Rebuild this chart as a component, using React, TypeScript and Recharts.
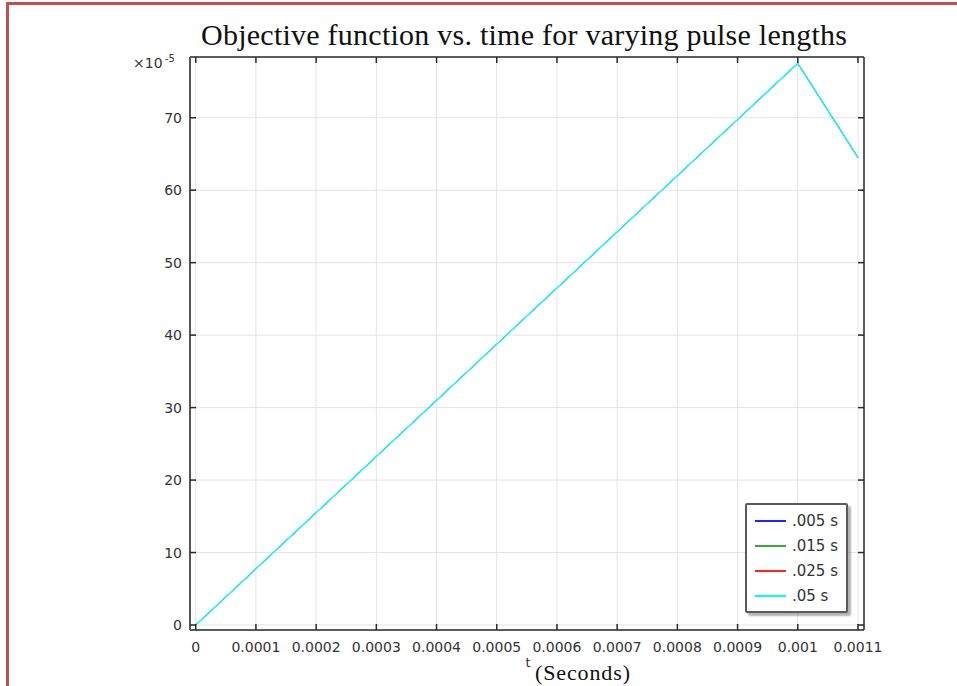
import React from 'react'
import { LineChart, Line, XAxis, YAxis, CartesianGrid, Legend } from 'recharts'

// time samples (s) and objective values (in units of 1e-5)
const tSeconds = [0, 0.001, 0.0011]
const pulse005 = [0, 77.5, 64.5]
const pulse015 = [0, 77.5, 64.5]
const pulse025 = [0, 77.5, 64.5]
const pulse05 = [0, 77.5, 64.5]

const seriesNames = ['.005 s', '.015 s', '.025 s', '.05 s']
const seriesColors = ['#2323ff', '#2fae2f', '#ff2323', '#00ffff']
const seriesValues = [pulse005, pulse015, pulse025, pulse05]

const xTicks = [0, 0.0001, 0.0002, 0.0003, 0.0004, 0.0005, 0.0006, 0.0007, 0.0008, 0.0009, 0.001, 0.0011]
const yTicks = [0, 10, 20, 30, 40, 50, 60, 70]

const data = tSeconds.map((t, i) => {
  const row: Record<string, number> = { t }
  seriesValues.forEach((vals, k) => {
    row['s' + k] = vals[i]
  })
  return row
})

const FRAME = '#2a2a2a'
const TICK_TEXT = '#333'
const SANS = '"DejaVu Sans", sans-serif'
const SERIF = '"Liberation Serif", serif'

const BottomTick = (props: any) => {
  const { x, y, payload } = props
  return (
    <g>
      <line x1={x} y1={y} x2={x} y2={y - 6} stroke={FRAME} strokeWidth={1.5} />
      <text x={x} y={y + 22} textAnchor="middle" fontFamily={SANS} fontSize={14} fill={TICK_TEXT}>
        {String(payload.value)}
      </text>
    </g>
  )
}

const LeftTick = (props: any) => {
  const { x, y, payload } = props
  return (
    <g>
      <line x1={x} y1={y} x2={x + 6} y2={y} stroke={FRAME} strokeWidth={1.5} />
      <text x={x - 8} y={y + 5} textAnchor="end" fontFamily={SANS} fontSize={14} fill={TICK_TEXT}>
        {String(payload.value)}
      </text>
    </g>
  )
}

const TopTick = (props: any) => {
  const { x, y } = props
  return <line x1={x} y1={y} x2={x} y2={y + 6} stroke={FRAME} strokeWidth={1.5} />
}

const RightTick = (props: any) => {
  const { x, y } = props
  return <line x1={x} y1={y} x2={x - 6} y2={y} stroke={FRAME} strokeWidth={1.5} />
}

const LegendBox = () => (
  <div
    style={{
      boxSizing: 'border-box',
      width: 103,
      height: 110,
      padding: '3px 4px 3px 8px',
      border: '2px solid #5a5a5a',
      borderRadius: 2,
      background: '#fff',
      boxShadow: '3px 3px 2px rgba(0,0,0,0.3)',
      fontFamily: SANS,
      fontSize: 15,
      color: '#333',
    }}
  >
    {seriesNames.map((name, k) => (
      <div key={name} style={{ display: 'flex', alignItems: 'center', height: 25 }}>
        <span style={{ display: 'inline-block', width: 31, height: 2, background: seriesColors[k], marginRight: 6 }} />
        <span>{name}</span>
      </div>
    ))}
  </div>
)

export default function App() {
  return (
    <div style={{ position: 'absolute', left: 0, top: 0, width: 957, height: 686, background: '#fff', overflow: 'hidden' }}>
      {/* page border */}
      <div style={{ position: 'absolute', left: 6, top: 2, width: 3, height: 684, background: '#c0504d' }} />
      <div style={{ position: 'absolute', left: 6, top: 2, width: 951, height: 3, background: '#c0504d' }} />

      <div style={{ position: 'absolute', left: 0, top: 0 }}>
        <LineChart width={957} height={686} data={data} margin={{ top: 47, right: 83, bottom: 16, left: 130 }}>
          <CartesianGrid xAxisId="b" yAxisId="l" stroke="#e4e4e4" strokeWidth={1} />
          <XAxis
            xAxisId="b"
            dataKey="t"
            type="number"
            domain={[-0.0000095, 0.00111]}
            allowDataOverflow
            ticks={xTicks}
            interval={0}
            height={40}
            tickSize={0}
            tickMargin={0}
            tickLine={false}
            tick={<BottomTick />}
            axisLine={{ stroke: FRAME, strokeWidth: 1.5 }}
          />
          <XAxis
            xAxisId="t"
            orientation="top"
            dataKey="t"
            type="number"
            domain={[-0.0000095, 0.00111]}
            allowDataOverflow
            ticks={xTicks}
            interval={0}
            height={10}
            tickSize={0}
            tickMargin={0}
            tickLine={false}
            tick={<TopTick />}
            axisLine={{ stroke: FRAME, strokeWidth: 1.5 }}
          />
          <YAxis
            yAxisId="l"
            type="number"
            domain={[-0.69, 78.38]}
            allowDataOverflow
            ticks={yTicks}
            interval={0}
            width={60}
            tickSize={0}
            tickMargin={0}
            tickLine={false}
            tick={<LeftTick />}
            axisLine={{ stroke: '#555', strokeWidth: 2 }}
          />
          <YAxis
            yAxisId="r"
            orientation="right"
            type="number"
            domain={[-0.69, 78.38]}
            allowDataOverflow
            ticks={yTicks}
            interval={0}
            width={10}
            tickSize={0}
            tickMargin={0}
            tickLine={false}
            tick={<RightTick />}
            axisLine={{ stroke: FRAME, strokeWidth: 1.5 }}
          />
          {seriesNames.map((name, k) => (
            <Line
              key={name}
              xAxisId="b"
              yAxisId="l"
              type="linear"
              dataKey={'s' + k}
              name={name}
              stroke={seriesColors[k]}
              strokeWidth={k === seriesNames.length - 1 ? 1.3 : 0.8}
              dot={false}
              isAnimationActive={false}
            />
          ))}
          <Legend
            layout="vertical"
            align="center"
            verticalAlign="middle"
            wrapperStyle={{ left: 745, top: 503, width: 103, height: 110 }}
            content={() => <LegendBox />}
          />
        </LineChart>
      </div>

      <svg width={957} height={686} style={{ position: 'absolute', left: 0, top: 0, pointerEvents: 'none' }}>
        <text x={524} y={44.5} textAnchor="middle" fontFamily={SERIF} fontSize={30} textLength={646} lengthAdjust="spacing" fill="#111">
          Objective function vs. time for varying pulse lengths
        </text>
        <text x={133} y={68} fontFamily={SANS} fontSize={14} fill={TICK_TEXT}>
          ×10
        </text>
        <text x={165} y={62} fontFamily={SANS} fontSize={10} fill={TICK_TEXT}>
          -5
        </text>
        <text x={528} y={667} textAnchor="middle" fontFamily={SANS} fontSize={13} fill={TICK_TEXT}>
          t
        </text>
        <text x={535} y={680} fontFamily={SERIF} fontSize={22} textLength={95} lengthAdjust="spacing" fill="#111">
          (Seconds)
        </text>
      </svg>
    </div>
  )
}
